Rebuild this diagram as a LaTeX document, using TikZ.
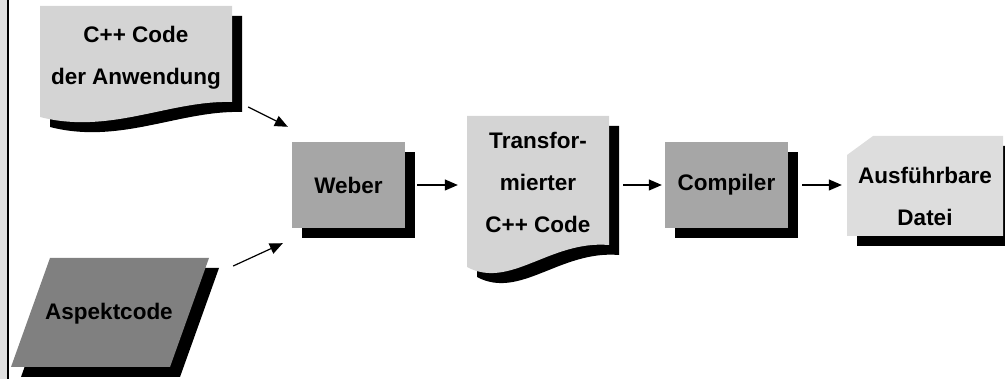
\documentclass[tikz,border=0pt]{standalone}
\usepackage{fontspec}
\setmainfont{Liberation Sans}
\usetikzlibrary{arrows.meta,shadows}
\definecolor{docgray}{RGB}{212,212,212}
\definecolor{exegray}{RGB}{221,221,221}
\definecolor{procgray}{RGB}{166,166,166}
\definecolor{aspgray}{RGB}{128,128,128}
\definecolor{edgegray}{RGB}{224,224,224}
\tikzset{
  shad/.style={drop shadow={shadow xshift=10pt, shadow yshift=-10pt, fill=black, opacity=1}},
  lbl/.style={font=\fontsize{22.5}{42}\selectfont\bfseries, align=center, inner sep=0pt},
  proc/.style={lbl, fill=procgray, shad, minimum width=113pt, minimum height=86pt},
  flowarr/.style={-{Triangle[length=13pt, width=11pt]}, line width=1.2pt},
}

\begin{document}
\begin{tikzpicture}[x=1pt, y=-1pt]
  \useasboundingbox (0,0) rectangle (1005,379);
  \clip (0,0) rectangle (1005,379);
  % left margin
  \fill[edgegray] (0,0) rectangle (7.3,379);
  \draw[line width=2pt] (8.3,0) -- (8.3,379);

  % sheets
  \fill[docgray, shad] (40,6) -- (232,6) -- (232,102)
    .. controls (170,100) and (110,135) .. (40,117) -- cycle;
  \fill[docgray, shad] (467,116) -- (609,116) -- (609,245)
    .. controls (550,240) and (510,290) .. (467,267) -- cycle;
  \fill[exegray, shad] (847,155) -- (873,136) -- (1003,136) -- (1003,236) -- (847,236) -- cycle;
  \fill[aspgray, shad] (50,258) -- (209,258) -- (170,367) -- (11,367) -- cycle;

  \node[lbl, minimum width=192pt] (appl) at (136,58) {C++ Code\\der Anwendung};
  \node[lbl, minimum width=198pt] (aspekt) at (109,314) {Aspektcode};
  \node[proc] (weber) at (348.5,185) {Weber};
  \node[lbl, minimum width=142pt] (trans) at (538,182) {Transfor-\\mierter\\C++ Code};
  \node[proc, minimum width=123pt] (comp) at (726.5,185) {Compiler};
  \node[lbl, minimum width=156pt] (exe) at (925,196) {Ausführbare\\Datei};

  \draw[flowarr] ([shift={(16,49)}]appl.east) -- ([shift={(-4,-15)}]weber.north west);
  \draw[flowarr] ([shift={(25,-48)}]aspekt.east) -- ([shift={(-9,15)}]weber.south west);
  \draw[flowarr, shorten <=12pt, shorten >=9pt] (weber.east) -- (weber.east -| trans.west);
  \draw[flowarr, shorten <=14pt, shorten >=3pt] (comp.west -| trans.east) -- (comp.west);
  \draw[flowarr, shorten <=14pt, shorten >=5pt] (comp.east) -- (comp.east -| exe.west);
\end{tikzpicture}
\end{document}
